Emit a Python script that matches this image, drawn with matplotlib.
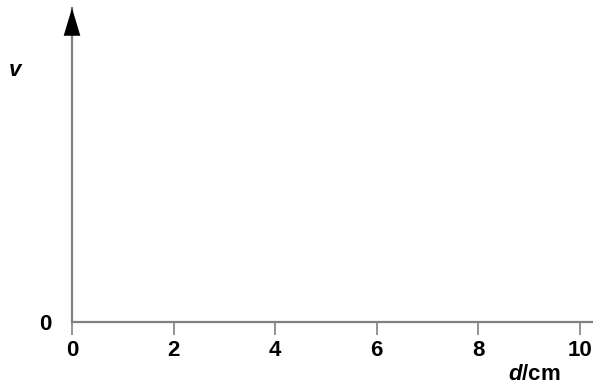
import matplotlib
matplotlib.use('Agg')
import matplotlib.pyplot as plt

# axis values and labels
x_ticks = [0, 2, 4, 6, 8, 10]
x_tick_labels = ['0', '2', '4', '6', '8', '10']
y_ticks = [0]
y_tick_labels = ['0']
x_label = '$d$/cm'
y_label = '$v$'

plt.rcParams['font.family'] = ['Liberation Sans', 'DejaVu Sans']
plt.rcParams['mathtext.fontset'] = 'custom'
plt.rcParams['mathtext.it'] = 'Liberation Sans:italic:bold'
plt.rcParams['mathtext.rm'] = 'Liberation Sans:bold'

fig = plt.figure(figsize=(5.93, 3.88), dpi=100)
# x=0 at pixel 72, x=10 at pixel 580; axis line at pixel row 322
ax = fig.add_axes([72 / 593, (388 - 322) / 388, 521 / 593, (322 - 8) / 388])
ax.set_xlim(0, 521 / 50.8)
ax.set_ylim(0, 1)

for s in ['top', 'right']:
    ax.spines[s].set_visible(False)
for s in ['left', 'bottom']:
    ax.spines[s].set_color('#808080')
    ax.spines[s].set_linewidth(1.6)

# arrow head on the vertical axis
ax.annotate('', xy=(0, 1.0), xytext=(0, 0.90),
            arrowprops=dict(arrowstyle='-|>,head_length=2.0,head_width=0.6',
                            color='black', lw=0, shrinkA=0, shrinkB=0),
            annotation_clip=False)

ax.set_xticks(x_ticks)
ax.set_xticklabels(x_tick_labels, fontsize=16, fontweight='bold')
ax.tick_params(axis='x', direction='out', length=9, width=1.2, color='#808080', pad=4)
ax.set_yticks(y_ticks)
ax.set_yticklabels(y_tick_labels, fontsize=16, fontweight='bold')
ax.tick_params(axis='y', length=0, pad=15)

ax.text(534, 388 - 375, x_label, transform=None, fontsize=16, fontweight='bold',
        ha='center', va='center')
fig.text(16 / 593, 1 - 70 / 388, y_label, fontsize=16, ha='center', va='center')

fig.savefig('out.png', dpi=100)
